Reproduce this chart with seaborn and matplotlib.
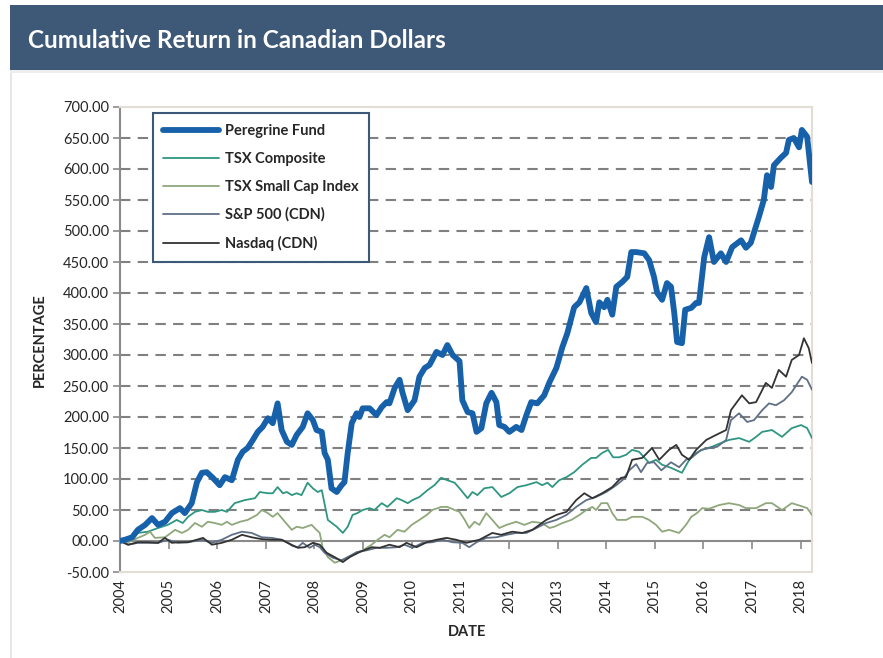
import matplotlib
matplotlib.use('Agg')
import matplotlib.pyplot as plt
from matplotlib.patches import Rectangle
import seaborn as sns
import pandas as pd

# months since Jan 2004 and cumulative return (%)
peregrine_m = [0, 1.2, 3.0, 4.4, 6.2, 7.9, 9.4, 11.1, 12.8, 14.8, 16.0, 17.7, 19.0, 20.2, 21.4, 22.9,
               24.6, 25.9, 27.6, 29.1, 30.3, 31.5, 32.8, 34.0, 35.2, 36.5, 37.7, 38.9, 39.9, 41.2,
               42.4, 43.6, 45.1, 46.3, 47.6, 48.5, 49.8, 50.5, 51.3, 52.2, 53.5, 54.7, 55.4, 56.2,
               57.2, 58.4, 59.1, 59.9, 61.6, 63.3, 64.6, 65.8, 66.5, 67.8, 69.0, 69.7, 71.0, 72.7,
               73.9, 75.2, 76.4, 78.1, 79.6, 80.8, 82.1, 83.8, 84.5, 85.8, 87.0, 88.0, 89.2, 90.4,
               91.7, 92.9, 93.6, 94.9, 96.1, 97.8, 99.1, 100.3, 101.5, 103.0, 104.7, 106.0, 107.7,
               109.2, 110.4, 112.1, 113.4, 115.1, 116.3, 117.5, 118.3, 119.5, 120.3, 121.5, 122.5,
               124.0, 125.2, 126.2, 127.4, 129.4, 130.6, 131.8, 132.6, 133.8, 135.0, 136.0, 136.8,
               137.5, 138.7, 139.5, 141.0, 142.2, 142.9, 144.2, 145.4, 146.6, 148.3, 149.6, 151.1,
               153.3, 154.5, 155.7, 157.7, 158.9, 159.7, 160.7, 161.4, 163.1, 164.4, 165.1, 166.3,
               167.6, 168.3, 169.6, 170.8]
peregrine_v = [0, 2, 6, 18, 26, 37, 26, 31, 45, 53, 45, 61, 95, 110, 111, 102,
               90, 103, 98, 131, 144, 150, 163, 176, 184, 198, 190, 222, 179, 160,
               155, 171, 184, 206, 195, 179, 176, 142, 131, 85, 79, 90, 95, 142,
               190, 206, 200, 214, 214, 203, 216, 224, 222, 247, 260, 240, 211, 227,
               265, 279, 284, 305, 300, 316, 300, 290, 227, 208, 206, 176, 182, 222,
               239, 224, 187, 184, 176, 184, 179, 203, 224, 222, 235, 256, 279,
               313, 335, 377, 385, 408, 368, 353, 385, 377, 389, 365, 410,
               418, 426, 466, 466, 464, 453, 426, 400, 389, 416, 410, 368,
               321, 319, 373, 376, 384, 384, 458, 490, 450, 464, 450, 474,
               485, 473, 481, 523, 550, 590, 571, 606, 618, 626, 647, 650,
               635, 663, 652, 579]

tsx_m = [0, 2.0, 4.4, 6.9, 9.4, 11.8, 14.0, 15.5, 16.8, 18.5, 20.2, 21.7, 23.4, 25.1, 26.4, 28.3,
         30.8, 33.3, 34.5, 36.5, 37.7, 38.9, 40.2, 41.2, 42.4, 43.6, 44.8, 46.3, 47.6, 48.8, 49.8,
         51.3, 53.5, 55.0, 56.2, 57.4, 58.6, 59.9, 61.6, 62.8, 64.6, 66.0, 68.3, 69.5, 71.0, 72.2,
         73.9, 75.9, 77.6, 79.3, 80.8, 82.6, 83.8, 85.8, 87.0, 88.2, 89.9, 91.9, 94.1, 96.1, 98.1,
         100.3, 102.8, 104.2, 105.5, 106.7, 108.4, 110.2, 112.1, 114.1, 116.3, 117.5, 119.0, 120.5,
         121.7, 123.2, 124.9, 126.4, 128.1, 130.6, 132.3, 133.8, 136.0, 138.7, 140.5, 142.2, 143.7,
         146.1, 148.3, 150.3, 152.8, 155.3, 157.0, 158.5, 160.9, 163.4, 165.8, 168.1, 169.6, 170.8]
tsx_v = [0, 2, 13, 15, 21, 26, 34, 29, 39, 47, 50, 47, 47, 50, 47, 61,
         66, 69, 79, 77, 77, 87, 77, 79, 74, 77, 74, 94, 85, 79, 82,
         34, 23, 13, 23, 42, 45, 50, 53, 50, 61, 55, 69, 66, 61, 66,
         71, 82, 90, 102, 98, 94, 85, 69, 79, 74, 85, 87, 71, 77, 87,
         90, 95, 90, 94, 87, 98, 103, 111, 123, 134, 134, 142, 147,
         135, 135, 139, 147, 144, 126, 131, 123, 118, 110, 131, 142, 147,
         152, 158, 163, 166, 160, 168, 176, 179, 168, 182, 187, 182, 166]

small_m = [0, 2.0, 4.4, 6.2, 7.4, 8.6, 11.1, 13.6, 15.3, 16.8, 18.5, 20.2, 21.7, 23.4, 25.1, 26.4,
           27.6, 29.6, 31.5, 33.8, 35.0, 36.5, 37.7, 38.9, 40.7, 42.4, 43.6, 45.1, 47.3, 48.5, 49.3,
           50.0, 51.3, 53.0, 54.7, 56.2, 58.4, 59.9, 62.1, 63.6, 65.3, 66.5, 68.5, 70.2, 72.0, 73.9,
           75.7, 77.1, 79.3, 80.8, 82.6, 83.8, 85.0, 86.2, 87.5, 88.7, 90.4, 91.9, 93.6, 95.4, 97.8,
           99.8, 101.8, 104.2, 106.0, 107.2, 109.2, 111.4, 113.4, 115.1, 116.6, 117.5, 118.8, 120.3,
           121.5, 122.7, 124.9, 126.4, 128.9, 130.6, 132.3, 133.8, 135.5, 138.0, 139.7, 141.0, 142.4,
           143.7, 145.4, 147.9, 150.3, 152.8, 154.5, 157.0, 159.4, 160.9, 163.4, 165.8, 168.3, 169.6,
           170.8]
small_v = [0, -2, 5, 10, 15, 5, 6, 18, 13, 18, 29, 23, 31, 29, 26, 31,
           26, 31, 34, 42, 50, 45, 39, 45, 31, 18, 23, 21, 26, 18, 13,
           -10, -26, -35, -31, -27, -19, -15, -6, 2, 10, 6, 18, 15, 26, 34,
           42, 50, 55, 55, 50, 47, 35, 21, 31, 26, 45, 34, 21, 26, 31,
           26, 31, 29, 21, 23, 29, 34, 42, 50, 55, 50, 61, 61,
           45, 34, 34, 39, 39, 34, 26, 15, 18, 13, 26, 39, 45,
           53, 52, 58, 61, 58, 53, 53, 61, 61, 50, 61, 56, 53,
           42]

sp_m = [0, 2.0, 4.4, 6.9, 9.4, 11.8, 14.3, 16.8, 20.2, 22.7, 25.1, 27.6, 30.1, 32.5, 35.0, 37.5,
        39.9, 41.4, 42.6, 43.9, 45.1, 46.8, 48.1, 49.3, 50.5, 52.5, 54.7, 56.2, 58.4, 60.9, 63.3,
        65.8, 68.3, 70.2, 72.2, 74.7, 77.1, 79.6, 82.1, 84.5, 86.2, 88.0, 90.4, 92.9, 95.4, 97.8,
        100.3, 102.8, 105.2, 107.7, 110.2, 112.6, 115.1, 117.5, 120.0, 122.5, 124.0, 125.7, 127.4,
        128.6, 130.1, 131.8, 133.6, 136.0, 138.0, 139.7, 141.2, 143.4, 145.4, 147.4, 149.6, 150.8,
        152.8, 154.8, 156.5, 158.5, 160.2, 161.9, 163.9, 165.8, 168.3, 169.6, 170.8]
sp_v = [0, -6, -3, -3, -3, 2, -3, -2, 2, -3, 2, 10, 15, 13, 6, 5,
        2, -3, -8, -10, -3, -11, -6, -10, -19, -27, -31, -26, -18, -15, -11,
        -11, -10, -6, -11, -3, -2, 2, -2, -3, -10, -2, 5, 6, 10, 13,
        13, 21, 29, 34, 42, 55, 66, 71, 79, 90, 98, 114, 124,
        111, 126, 127, 114, 127, 119, 131, 135, 147, 150, 152, 163, 195,
        206, 192, 195, 211, 222, 219, 227, 240, 265, 260, 244]

nasdaq_m = [0, 2.0, 4.4, 6.9, 9.4, 11.1, 12.8, 14.3, 16.8, 20.5, 22.7, 25.1, 27.6, 30.1, 32.5, 35.0,
            37.5, 39.9, 41.4, 43.9, 45.6, 47.6, 49.3, 51.0, 53.0, 55.0, 56.7, 59.1, 62.1, 64.1, 66.5,
            69.0, 70.7, 73.2, 75.7, 78.1, 80.6, 83.0, 85.5, 88.7, 91.9, 94.1, 96.8, 99.3, 101.8,
            105.2, 107.7, 110.2, 112.6, 114.6, 116.6, 119.0, 121.5, 123.7, 124.9, 126.4, 128.9,
            131.3, 133.1, 135.5, 137.3, 138.7, 140.5, 142.2, 144.7, 147.1, 149.6, 150.8, 153.5,
            155.3, 157.0, 159.4, 160.9, 162.6, 164.4, 165.8, 167.6, 168.8, 170.0, 170.8]
nasdaq_v = [0, -6, -2, -2, -3, 5, -3, -2, -2, 5, -6, -3, 2, 10, 6, 3,
            2, 2, -3, -11, -10, -3, -6, -19, -26, -34, -26, -18, -10, -11, -6,
            -10, -3, -10, -2, 2, 5, 2, -3, 2, 13, 10, 15, 13, 18,
            34, 42, 47, 66, 77, 69, 77, 87, 102, 103, 131, 134,
            150, 131, 147, 155, 139, 131, 147, 163, 171, 179, 211, 235,
            222, 224, 255, 247, 276, 265, 292, 300, 327, 311, 287]

series_names = ['Peregrine Fund', 'TSX Composite', 'TSX Small Cap Index', 'S&P 500 (CDN)', 'Nasdaq (CDN)']
series_colors = ['#1761ab', '#2f9682', '#8fa77b', '#5f6f86', '#333333']
years = list(range(2004, 2019))
y_ticks = list(range(-50, 701, 50))

frames = []
for name, m, v in zip(series_names,
                      [peregrine_m, tsx_m, small_m, sp_m, nasdaq_m],
                      [peregrine_v, tsx_v, small_v, sp_v, nasdaq_v]):
    frames.append(pd.DataFrame({'month': m, 'value': v, 'series': name}))
df = pd.concat(frames, ignore_index=True)

sns.set_theme(style='white')
plt.rcParams['font.family'] = ['Lato', 'DejaVu Sans']

fig = plt.figure(figsize=(8.83, 6.58), dpi=100)
fig.patch.set_facecolor('white')

# header bar
fig.patches.append(Rectangle((10 / 883, 1 - 70 / 658), 873 / 883, 65 / 658,
                             transform=fig.transFigure, facecolor='#3e5877',
                             edgecolor='none', zorder=0))
fig.patches.append(Rectangle((10 / 883, 1 - 73 / 658), 873 / 883, 3 / 658,
                             transform=fig.transFigure, facecolor='#eeeeee',
                             edgecolor='none', zorder=0))
fig.patches.append(Rectangle((10 / 883, 0), 1.5 / 883, 1 - 73 / 658,
                             transform=fig.transFigure, facecolor='#e6e6e6',
                             edgecolor='none', zorder=0))
fig.text(28 / 883, 1 - 40 / 658, 'Cumulative Return in Canadian Dollars', color='white',
         fontsize=17.5, fontweight='bold', va='center', ha='left')

ax = fig.add_axes([120 / 883, 1 - 572 / 658, 692 / 883, 465 / 658])

for i, name in enumerate(series_names):
    sub = df[df['series'] == name]
    sns.lineplot(data=sub, x='month', y='value', ax=ax, color=series_colors[i],
                 linewidth=4.2 if i == 0 else 1.3, label=name, estimator=None,
                 sort=False, zorder=5 if i == 0 else 3 + i * 0.1)

ax.set_xlim(0, 170.8)
ax.set_ylim(-50, 700)

# dashed gridlines
for yv in y_ticks[2:-1]:
    ax.axhline(yv, color='#808080', linewidth=1.5, linestyle=(0, (5, 3.5)), zorder=1)

ax.set_yticks(y_ticks)
ax.set_yticklabels([('%05.2f' % v) for v in y_ticks])
ax.set_xticks([12 * (y - 2004) for y in years])
ax.set_xticklabels([str(y) for y in years], rotation=90)
ax.tick_params(axis='y', direction='out', length=5, width=1.2, color='#8a8a8a',
               labelsize=10.5, pad=3, left=True)
ax.tick_params(axis='x', length=0, labelsize=10.5, pad=5)

for s in ['top', 'right', 'bottom']:
    ax.spines[s].set_color('#e2ded5')
    ax.spines[s].set_linewidth(1.5)
ax.spines['left'].set_color('#8a8a8a')
ax.spines['left'].set_linewidth(1.5)

# horizontal category axis crossing at zero
secax = ax.secondary_xaxis(50 / 750)
secax.set_xticks([12 * (y - 2004) for y in years])
secax.tick_params(axis='x', direction='out', length=6, width=1.2, color='#8a8a8a',
                  labelbottom=False, labeltop=False)
for s in secax.spines.values():
    s.set_color('#8a8a8a')
    s.set_linewidth(1.5)

ax.set_xlabel('')
ax.set_ylabel('')
fig.text(467 / 883, 1 - 632 / 658, 'DATE', fontsize=10.5, fontweight='bold',
         ha='center', va='center')
fig.text(40 / 883, 1 - 340 / 658, 'PERCENTAGE', fontsize=10.5, fontweight='bold',
         ha='center', va='center', rotation=90)

leg = ax.legend(loc='upper left', bbox_to_anchor=(0.047, 0.987), borderaxespad=0,
                fancybox=False, framealpha=1, edgecolor='#3e5877',
                prop={'weight': 'bold', 'size': 10.5}, handlelength=3.8,
                handletextpad=0.4, labelspacing=0.95, borderpad=0.75)
leg.get_frame().set_linewidth(1.5)
leg.set_zorder(10)

fig.savefig('out.png', dpi=100)
